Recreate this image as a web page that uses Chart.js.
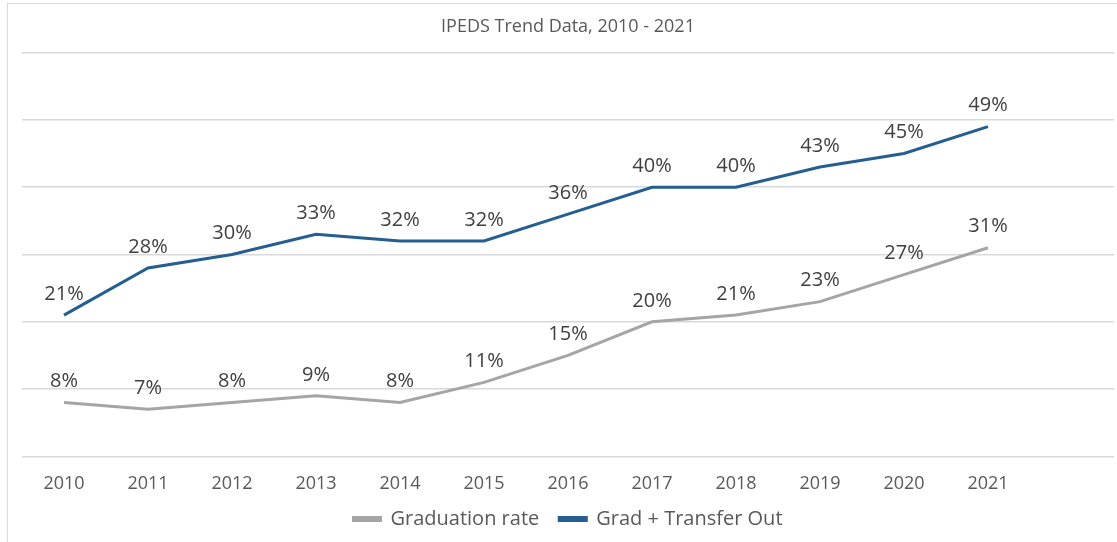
<!DOCTYPE html>
<html>
<head>
<meta charset="utf-8">
<script src="https://cdn.jsdelivr.net/npm/chart.js@4.4.1/dist/chart.umd.min.js"></script>
<style>
  html, body { margin: 0; padding: 0; background: #ffffff; overflow: hidden; }
  #wrap { position: absolute; left: 0; top: 0; width: 1117px; height: 542px; }
  #frame { position: absolute; left: 7px; top: 3px; width: 1120px; height: 545px; border: 1px solid #d9d9d9; box-sizing: border-box; pointer-events: none; }
</style>
</head>
<body>
<div id="wrap"><canvas id="c" width="1117" height="542"></canvas></div>
<div id="frame"></div>
<script>
const categories = ['2010','2011','2012','2013','2014','2015','2016','2017','2018','2019','2020','2021',''];
const graduationRate = [8, 7, 8, 9, 8, 11, 15, 20, 21, 23, 27, 31, null];
const gradTransferOut = [21, 28, 30, 33, 32, 32, 36, 40, 40, 43, 45, 49, null];
const seriesNames = ['Graduation rate', 'Grad + Transfer Out'];
const titleText = 'IPEDS Trend Data, 2010 - 2021';

const FONT = "'Open Sans', 'Liberation Sans', sans-serif";

const valueLabels = {
  id: 'valueLabels',
  afterDatasetsDraw(chart) {
    const ctx = chart.ctx;
    ctx.save();
    ctx.font = '20px ' + FONT;
    ctx.fillStyle = '#404040';
    ctx.textAlign = 'center';
    ctx.textBaseline = 'middle';
    chart.data.datasets.forEach((ds, i) => {
      const meta = chart.getDatasetMeta(i);
      meta.data.forEach((pt, j) => {
        const v = ds.data[j];
        if (v === null || v === undefined) return;
        ctx.fillText(v + '%', pt.x, pt.y - 21);
      });
    });
    ctx.restore();
  }
};

new Chart(document.getElementById('c'), {
  type: 'line',
  data: {
    labels: categories,
    datasets: [
      {
        label: seriesNames[0],
        data: graduationRate,
        borderColor: '#a5a5a5',
        backgroundColor: '#a5a5a5',
        borderWidth: 3,
        pointRadius: 0,
        tension: 0,
        spanGaps: false
      },
      {
        label: seriesNames[1],
        data: gradTransferOut,
        borderColor: '#255e91',
        backgroundColor: '#255e91',
        borderWidth: 3,
        pointRadius: 0,
        tension: 0,
        spanGaps: false
      }
    ]
  },
  options: {
    responsive: false,
    animation: false,
    devicePixelRatio: 1,
    layout: { padding: { left: 22, right: 3, top: 0, bottom: 3 } },
    plugins: {
      title: {
        display: true,
        text: titleText,
        color: '#595959',
        font: { family: FONT, size: 18, weight: 'normal' },
        padding: { top: 16, bottom: 15 }
      },
      legend: {
        position: 'bottom',
        labels: {
          color: '#595959',
          font: { family: FONT, size: 20 },
          boxWidth: 27,
          boxHeight: 3,
          padding: 20
        }
      },
      tooltip: { enabled: false }
    },
    scales: {
      x: {
        offset: true,
        grid: { display: false },
        border: { display: false },
        afterFit(scale) { scale.height -= 15; },
        ticks: {
          color: '#595959',
          font: { family: FONT, size: 18 },
          padding: 9,
          maxRotation: 0,
          autoSkip: false
        }
      },
      y: {
        min: 0,
        max: 60,
        grid: { color: '#d9d9d9', lineWidth: 1.5, drawTicks: false },
        border: { display: false },
        ticks: { display: false, stepSize: 10 }
      }
    }
  },
  plugins: [valueLabels]
});
</script>
</body>
</html>
